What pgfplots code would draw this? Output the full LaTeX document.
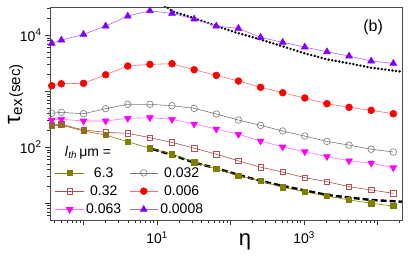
\documentclass[border=0pt]{standalone}
\usepackage{fontspec}
\setmainfont{Liberation Sans}
\usepackage{pgfplots}
\pgfplotsset{compat=1.18}
\definecolor{cOl}{RGB}{128,128,0}
\definecolor{cBr}{RGB}{176,80,80}
\definecolor{cMg}{RGB}{255,0,255}
\definecolor{cMgL}{RGB}{255,110,255}
\definecolor{cGr}{RGB}{120,120,120}
\definecolor{cRd}{RGB}{255,0,0}
\definecolor{cRdL}{RGB}{255,110,110}
\definecolor{cPu}{RGB}{128,0,255}
\definecolor{cPuL}{RGB}{170,100,255}
\begin{document}
\begin{tikzpicture}
\begin{axis}[name=ax, scale only axis, width=352pt, height=213pt,
  xmode=log, ymode=log, xmin=0.35, xmax=21500, ymin=5, ymax=32000,
  xtick={1,10,100,1000,10000},
  xticklabels={,10\textsuperscript{1},,10\textsuperscript{3},},
  minor xtick={0.4,0.5,0.6,0.7,0.8,0.9,2,3,4,5,6,7,8,9,20,30,40,50,60,70,80,90,200,300,400,500,600,700,800,900,2000,3000,4000,5000,6000,7000,8000,9000,20000},
  ytick={10,100,1000,10000},
  yticklabels={,10\textsuperscript{2},,10\textsuperscript{4}},
  minor ytick={6,7,8,9,20,30,40,50,60,70,80,90,200,300,400,500,600,700,800,900,2000,3000,4000,5000,6000,7000,8000,9000,20000,30000},
  tick align=outside, xtick pos=bottom, ytick pos=left,
  major tick length=5pt, minor tick length=3pt,
  tick style={color=black!80, line width=0.5pt},
  axis line style={color=black!70, line width=0.6pt},
  tick label style={font=\fontsize{14}{14}\selectfont},
  xticklabel style={yshift=-3pt},
  xlabel={\fontsize{22}{22}\selectfont η},
  xlabel style={at={(axis description cs:0.554,-0.103)}, anchor=center},
  ylabel={{\fontsize{23}{23}\selectfont τ}\raisebox{-0.4ex}{\fontsize{15}{15}\selectfont ex}\,{\fontsize{15}{15}\selectfont (sec)}},
  ylabel style={at={(axis description cs:-0.098,0.59)}, anchor=center},
  legend style={draw=none, fill=none, at={(axis description cs:0.014,0.258)}, anchor=north west,
    font=\fontsize{14}{14}\selectfont, row sep=3pt, inner sep=0pt,
    /tikz/every even column/.append style={column sep=6pt}},
  legend columns=2,
  legend image code/.code={\draw[mark repeat=2,mark phase=2] plot coordinates {(0cm,0cm) (0.5cm,0cm) (1.0cm,0cm)};},
  every axis plot/.append style={line width=0.6pt},
]
% reference lines
\addplot[forget plot, black, line width=2.4pt, dash pattern=on 6pt off 3pt] coordinates {
(8.8,92)(16,73)(32,53)(64,42)(128,32)(256,25)(512,20.3)(1024,16.9)(2048,14.0)(4096,12.6)(8192,11.4)(21500,10.6)};
\addplot[forget plot, black, line width=2.7pt, line cap=round, dash pattern=on 0pt off 3.6pt] coordinates {
(12.8,33500)(16.7,26300)(28.1,21400)(64.9,14600)(121,11100)(252,8460)(447,6690)(1024,4750)(2048,3720)(4096,3150)(8192,2630)(21500,2230)};
% series
\addplot[cOl, mark=square*, mark size=2.7pt, mark options={fill=cOl}] coordinates {
(0.37,239)(0.5,249)(1,195)(2,165)(4,125)(8,96)(16,75)(32,54)(64,41)(128,31)(256,24.9)(512,19.2)(1024,16.0)(2048,13.4)(4096,11.4)(8192,9.96)(16384,8.9)};
\addlegendentry{6.3}
\addplot[cGr, mark=o, mark size=3.3pt, mark options={fill=white}] coordinates {
(0.37,403)(0.5,420)(1,396)(2,487)(4,584)(8,584)(16,551)(32,495)(64,392)(128,306)(256,246)(512,195)(1024,158)(2048,127)(4096,109)(8192,92)(16384,82)};
\addlegendentry{0.032}
\addplot[cBr, mark=square, mark size=2.7pt, mark options={fill=white}] coordinates {
(0.37,249)(0.5,256)(1,203)(2,184)(4,177)(8,148)(16,122)(32,96)(64,75)(128,57)(256,44)(512,36)(1024,28.5)(2048,24.2)(4096,19.7)(8192,17.2)(16384,15.0)};
\addlegendentry{0.32}
\addplot[cRdL, mark=*, mark size=3.4pt, mark options={draw=cRd, fill=cRd}] coordinates {
(0.37,1254)(0.5,1360)(1,1385)(2,1970)(4,2820)(8,3020)(16,3100)(32,2420)(64,1920)(128,1520)(256,1175)(512,940)(1024,757)(2048,599)(4096,516)(8192,456)(16384,396)};
\addlegendentry{0.006}
\addplot[cMgL, mark=triangle*, mark size=3.9pt, mark options={rotate=180, draw=cMg, fill=cMg}] coordinates {
(0.37,306)(0.5,315)(1,294)(2,294)(4,328)(8,337)(16,315)(32,259)(64,211)(128,170)(256,129)(512,101)(1024,83)(2048,68)(4096,57)(8192,52)(16384,43)};
\addlegendentry{0.063}
\addplot[cPuL, mark=triangle*, mark size=3.9pt, mark options={draw=cPu, fill=cPu}] coordinates {
(0.37,7170)(0.5,8200)(1,10400)(2,14600)(4,22000)(8,27400)(16,24600)(32,19500)(64,14600)(128,13300)(256,9180)(512,7470)(1024,6150)(2048,5070)(4096,4250)(8192,3460)(16384,3150)};
\addlegendentry{0.0008}
\node[font=\fontsize{16}{16}\selectfont] at (axis description cs:0.918,0.906) {(b)};
\node[font=\fontsize{14}{14}\selectfont] at (axis description cs:0.108,0.316) {\textit{l}\textsubscript{\textit{th}}\,μm =};
\end{axis}
\pgfresetboundingbox
\path[use as bounding box] ([shift={(-50pt,-40pt)}]ax.south west) rectangle ([shift={(7pt,7pt)}]ax.north east);
\end{tikzpicture}
\end{document}
